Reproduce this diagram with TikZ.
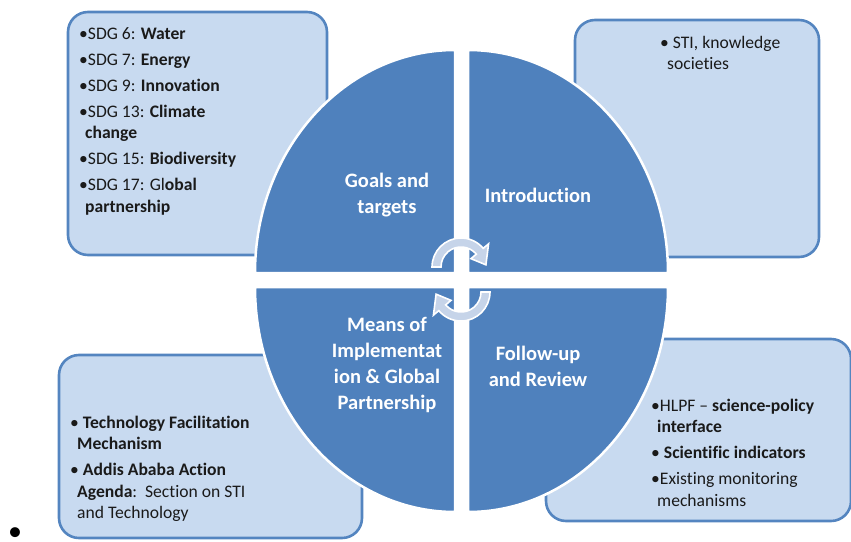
\documentclass[tikz,border=0pt]{standalone}
\usepackage{fontspec}
\usetikzlibrary{calc}
\setmainfont{Carlito}[Ligatures=NoCommon]
\definecolor{quad}{HTML}{4F81BD}
\definecolor{boxfill}{HTML}{C8DAF0}
\definecolor{boxline}{HTML}{5485C0}
\definecolor{arrowfill}{HTML}{C6D4E9}
\definecolor{txt}{HTML}{1A1A1A}
\begin{document}
\begin{tikzpicture}[x=1pt,y=-1pt,
  infobox/.style={fill=boxfill,draw=boxline,line width=2.6pt,rounded corners=20pt},
  quadrant/.style={fill=quad,draw=white,line width=2.5pt},
  quadlabel/.style={text=white,align=center,font=\fontsize{20.5}{26}\selectfont\bfseries,inner sep=0pt},
  boxtext/.style={text=txt,align=left,font=\fontsize{17.6}{21.5}\selectfont,inner sep=0pt,anchor=north west},
  cyclearrow/.style={fill=arrowfill,draw=white,line width=1.6pt,line join=miter}]
\useasboundingbox (0,0) rectangle (851,541);
% boxes
\path[infobox] (68,12) rectangle (327,255);
\path[infobox] (575,20) rectangle (819,257);
\path[infobox] (59,355) rectangle (362,538);
\path[infobox] (546,339) rectangle (851,521);
% quadrants
\path[quadrant] (455,273) -- (255,273) arc[start angle=180,end angle=270,x radius=200,y radius=223] -- cycle;
\path[quadrant] (468,273) -- (468,50) arc[start angle=270,end angle=360,x radius=200,y radius=223] -- cycle;
\path[quadrant] (455,287) -- (455,512) arc[start angle=90,end angle=180,x radius=200,y radius=225] -- cycle;
\path[quadrant] (468,287) -- (668,287) arc[start angle=0,end angle=90,x radius=200,y radius=225] -- cycle;
% cycle arrows
\coordinate (ca) at (461,267);
\coordinate (cb) at (461,292);
\path[cyclearrow] ($(ca)+(180:29)$) arc[start angle=180,end angle=320,radius=29]
  -- ($(ca)+(320:36)$) -- ($(ca)+(355:25)$) -- ($(ca)+(320:13)$) -- ($(ca)+(320:20)$)
  arc[start angle=320,end angle=180,radius=20] -- cycle;
\path[cyclearrow] ($(cb)+(0:29)$) arc[start angle=0,end angle=140,radius=29]
  -- ($(cb)+(140:36)$) -- ($(cb)+(175:25)$) -- ($(cb)+(140:13)$) -- ($(cb)+(140:20)$)
  arc[start angle=140,end angle=0,radius=20] -- cycle;
% quadrant labels
\node[quadlabel] (goals) at (387,195) {Goals and\\targets};
\node[quadlabel] (intro) at (538,195) {Introduction};
\node[quadlabel] (means) at (387,365) {Means of\\Implementat\\ion \& Global\\Partnership};
\node[quadlabel] (follow) at (538,366) {Follow-up\\and Review};
% box texts
\node[boxtext] (tltext) at (79,24) {%
\strut•SDG 6: \textbf{Water}\\[4.5pt]
•SDG 7: \textbf{Energy}\\[4.5pt]
•SDG 9: \textbf{Innovation}\\[4.5pt]
•SDG 13: \textbf{Climate}\\
\hspace*{6pt}\textbf{change}\\[4.5pt]
•SDG 15: \textbf{Biodiversity}\\[4.5pt]
•SDG 17: Gl\textbf{obal}\\
\hspace*{6pt}\textbf{partnership}};
\node[boxtext] (trtext) at (660,33) {%
\strut• STI, knowledge\\
\hspace*{7pt}societies};
\node[boxtext] (bltext) at (70,413) {%
\strut• \textbf{Technology Facilitation}\\
\hspace*{7pt}\textbf{Mechanism}\\[4.5pt]
• \textbf{Addis Ababa Action}\\
\hspace*{7pt}\textbf{Agenda}:\ \ Section on STI\\
\hspace*{7pt}and Technology};
\node[boxtext] (brtext) at (651,396) {%
\strut•HLPF -- \textbf{science-policy}\\
\hspace*{6pt}\textbf{interface}\\[4.5pt]
• \textbf{Scientific indicators}\\[4.5pt]
•Existing monitoring\\
\hspace*{6pt}mechanisms};
\node[text=black,font=\fontsize{28}{28}\selectfont,inner sep=0pt] (stray) at (15,534) {•};
\end{tikzpicture}
\end{document}
